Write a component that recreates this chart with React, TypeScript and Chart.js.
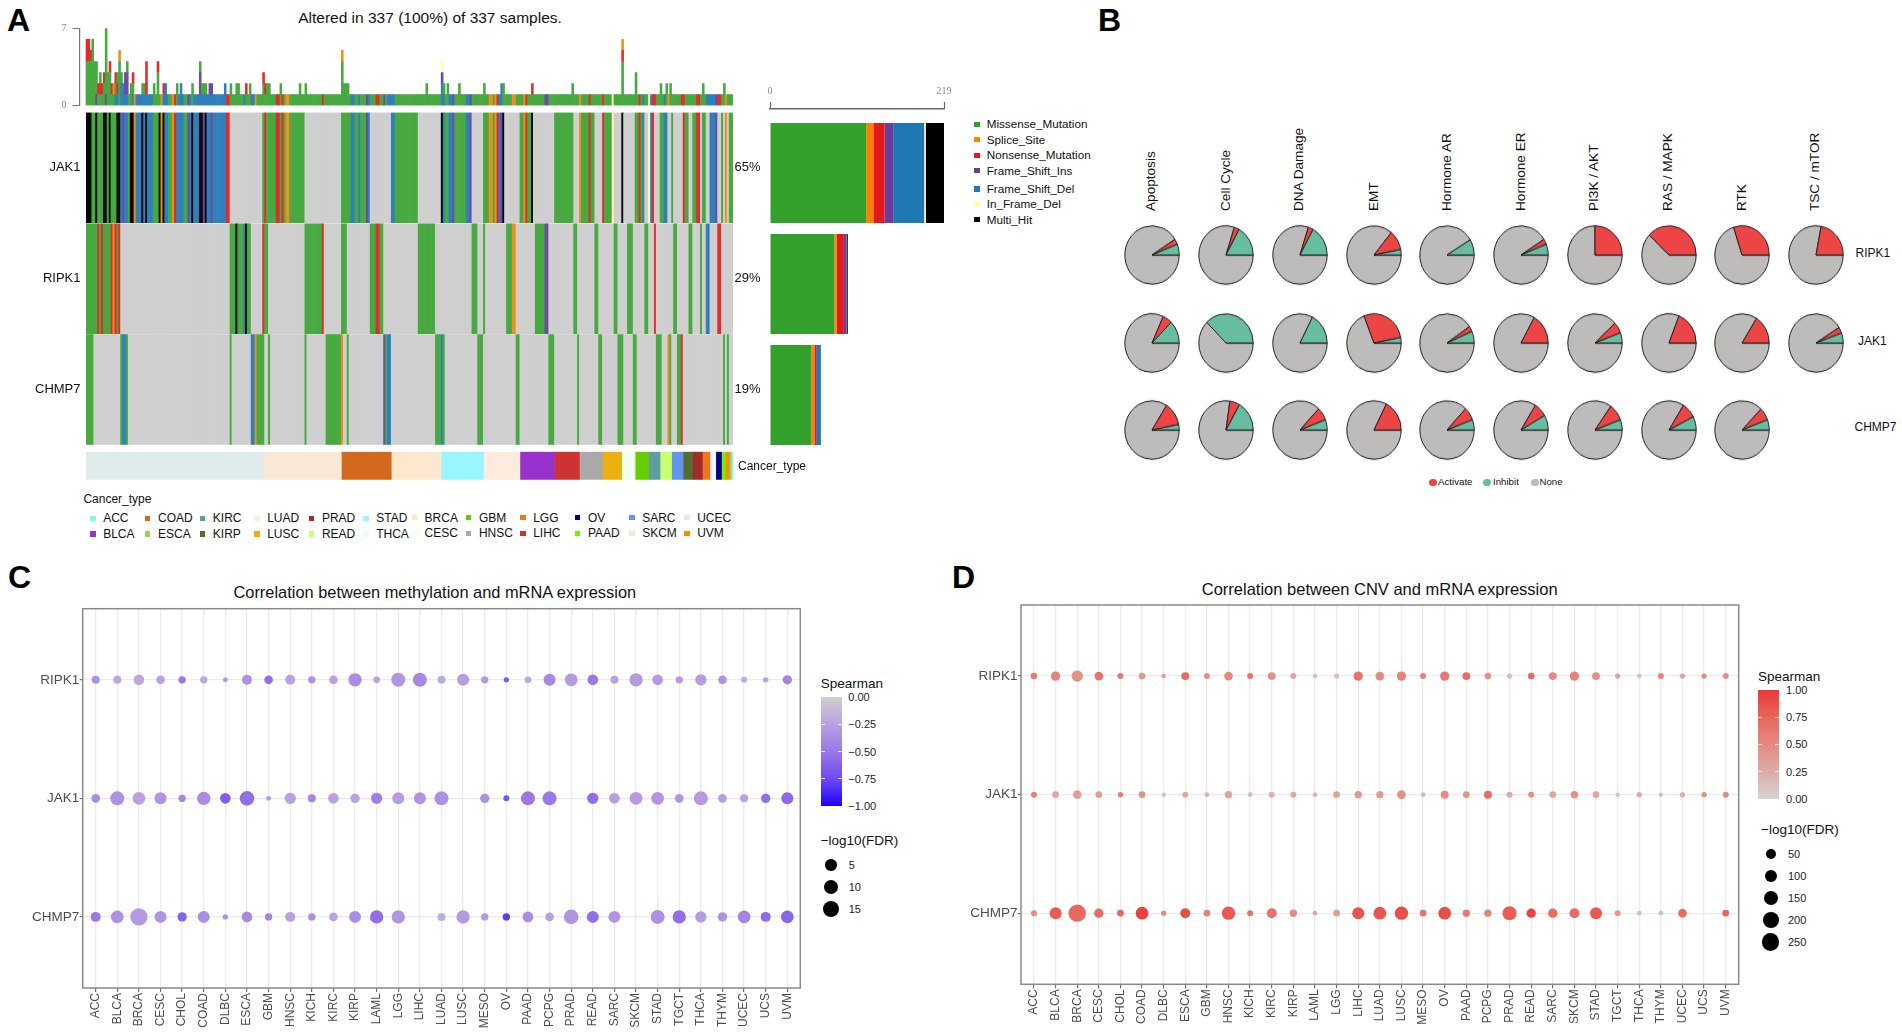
import React, { useEffect, useRef } from "react";
import { Chart, registerables } from "chart.js";

Chart.register(...registerables);
Chart.defaults.font.family = "'Liberation Sans', Arial, sans-serif";

// ---------- Panel A data ----------
const genes = ["JAK1", "RIPK1", "CHMP7"];
const genePercents = ["65%", "29%", "19%"];
const sampleCount = 337;
const mutationTypes = ["M", "S", "N", "I", "D", "F", "H"];
const mutationNames = ["Missense_Mutation", "Splice_Site", "Nonsense_Mutation", "Frame_Shift_Ins", "Frame_Shift_Del", "In_Frame_Del", "Multi_Hit"];
const jak1Runs: [number, number, string][] = [
  [0,3,"H"],[3,5,"M"],[5,6,"H"],[6,9,"M"],[9,11,"H"],[11,12,"M"],[12,13,"H"],[13,16,"M"],[16,18,"H"],[18,19,"D"],[19,20,"I"],[20,22,"D"],[22,23,"M"],[23,25,"H"],[25,26,"S"],[26,29,"D"],[29,30,"H"],[30,31,"D"],[31,32,"H"],[32,35,"D"],[35,38,"M"],[38,39,"H"],[39,40,"S"],[40,41,"H"],[41,43,"D"],[43,45,"M"],[45,46,"S"],[46,47,"N"],[47,51,"D"],[51,53,"M"],[53,54,"I"],[54,55,"D"],[55,56,"H"],[56,59,"D"],[59,61,"H"],[61,62,"I"],[62,63,"H"],[63,65,"D"],[65,66,"I"],[66,73,"D"],[73,75,"N"],
  [92,93,"M"],[93,94,"N"],[94,99,"M"],[99,101,"N"],[101,102,"M"],[102,103,"N"],[103,104,"M"],[104,106,"S"],[106,114,"M"],[133,138,"M"],[138,140,"D"],[140,142,"M"],[142,143,"D"],[143,146,"M"],[146,147,"I"],[147,148,"D"],[159,161,"D"],[161,173,"M"],
  [185,186,"H"],[186,187,"D"],[187,189,"M"],[189,191,"D"],[191,192,"I"],[192,198,"M"],[198,200,"D"],[200,201,"I"],[207,210,"M"],[210,212,"S"],[212,213,"M"],[213,214,"S"],[214,215,"N"],[215,216,"D"],[216,217,"I"],[217,218,"H"],[226,228,"M"],[228,229,"S"],[229,230,"N"],[230,232,"M"],[232,233,"H"],[244,254,"M"],
  [257,258,"S"],[258,262,"M"],[262,263,"N"],[263,265,"M"],[269,270,"N"],[270,274,"M"],[274,275,"F"],[279,280,"H"],[286,288,"M"],[288,289,"N"],[289,290,"M"],[290,291,"D"],[293,294,"F"],[294,295,"D"],[295,296,"N"],[299,301,"M"],[301,303,"D"],[305,306,"M"],[311,312,"N"],[312,314,"M"],[316,318,"M"],[318,320,"N"],[321,323,"M"],[325,328,"D"],[328,329,"I"],[331,332,"M"],[333,334,"S"],[335,337,"M"],
];
const ripk1Runs: [number, number, string][] = [
  [0,6,"M"],[6,7,"N"],[7,8,"M"],[8,9,"N"],[9,13,"M"],[13,14,"N"],[14,15,"S"],[15,16,"N"],[16,17,"M"],[17,18,"N"],[75,78,"M"],[78,79,"H"],[79,82,"M"],[82,83,"D"],[83,84,"H"],[84,86,"M"],[92,93,"N"],[93,95,"M"],[114,123,"M"],[123,124,"N"],[133,136,"M"],[148,151,"M"],[151,153,"N"],[153,155,"M"],[173,182,"M"],[201,204,"M"],[207,208,"M"],[219,222,"M"],[222,224,"S"],[234,239,"M"],[239,241,"I"],[254,256,"M"],[265,267,"M"],[275,277,"M"],[282,285,"M"],[291,293,"M"],[296,297,"N"],[306,308,"M"],[314,316,"M"],[320,321,"M"],[323,325,"D"],[329,331,"N"],
];
const chmp7Runs: [number, number, string][] = [
  [0,4,"M"],[18,19,"M"],[19,21,"D"],[21,22,"M"],[75,76,"M"],[86,88,"D"],[88,89,"S"],[89,93,"M"],[95,96,"M"],[114,115,"M"],[125,133,"M"],[133,134,"S"],[136,137,"M"],[155,156,"I"],[156,157,"M"],[157,159,"D"],[182,185,"M"],[185,186,"D"],[186,187,"M"],[204,207,"M"],[224,226,"M"],[241,244,"M"],[256,257,"M"],[267,269,"M"],[277,280,"M"],[285,287,"M"],[297,300,"M"],[303,304,"S"],[304,305,"M"],[308,310,"M"],[310,311,"N"],[332,333,"M"],[334,335,"M"],
];
const topStacks: [number, string][] = [
  [0,"MMMMNN"],[1,"MMMMNN"],[2,"MMMMN"],[3,"MMMMMM"],[4,"MMMM"],[5,"IMMM"],[6,"MN"],[7,"MNM"],[8,"MN"],[9,"MMN"],[10,"IMMMMMM"],[11,"MMM"],[12,"MMMN"],[13,"MN"],[14,"MS"],[15,"DMN"],[16,"DNM"],[17,"MMMMS"],[18,"DDM"],[19,"DD"],[20,"DII"],[21,"DIIM"],[23,"MM"],[24,"DMN"],[29,"DM"],[30,"DM"],[31,"DNNN"],[35,"MM"],[37,"MMMN"],[40,"DN"],[41,"DD"],[47,"MM"],[49,"DD"],[55,"MM"],[59,"DIIM"],[60,"DM"],[61,"DM"],[62,"DM"],[64,"DI"],[65,"DI"],[72,"DD"],[75,"MM"],[78,"MM"],[79,"MM"],[83,"MN"],[85,"MM"],[92,"MMN"],[93,"MN"],[94,"MM"],[95,"MM"],[101,"MM"],[111,"MM"],[114,"MM"],[133,"MMMMS"],[134,"MM"],[135,"MM"],[136,"MM"],[177,"MM"],[185,"DDIF"],[186,"DM"],[188,"MM"],[194,"MM"],[207,"MM"],[216,"DD"],[217,"MM"],[232,"MN"],[253,"MM"],[279,"MMMMNS"],[286,"MMM"],[299,"MM"],[302,"MM"],[304,"MM"],[321,"MM"],[332,"MM"],
];
const rowBarCounts: Record<string, number[]> = {
  M: [121, 81, 52], S: [9, 3, 4], N: [14, 9, 2], I: [11, 3, 1], D: [39, 1, 5], F: [2, 0, 0], H: [23, 1, 0],
};
const cancerOrder = ["UCEC","SKCM","COAD","BRCA","STAD","LUAD","BLCA","LIHC","HNSC","LUSC","CESC","GBM","KIRC","READ","SARC","KIRP","PRAD","LGG","THCA","OV","PAAD","UVM","ESCA","ACC"];
const cancerCounts = [92,41,26,26,22,19,18,13,12,10,7,7,6,6,6,5,5,4,3,3,2,2,1,1];
const cancerLegendRows = [["ACC","BLCA"],["COAD","ESCA"],["KIRC","KIRP"],["LUAD","LUSC"],["PRAD","READ"],["STAD","THCA"],["BRCA","CESC"],["GBM","HNSC"],["LGG","LIHC"],["OV","PAAD"],["SARC","SKCM"],["UCEC","UVM"]];

// ---------- Panel B data ----------
const pathways = ["Apoptosis","Cell Cycle","DNA Damage","EMT","Hormone AR","Hormone ER","PI3K / AKT","RAS / MAPK","RTK","TSC / mTOR"];
const pieGenes = ["RIPK1","JAK1","CHMP7"];
const pieActivate = [
  [3,3,3,11,0,3,25,38,30,22],
  [5.7,0,0,28,3,16.9,6.2,19,16,3.4],
  [13,6,7.3,17.5,7.3,7.8,9.4,8.6,7],
];
const pieInhibit = [
  [6,17,17,3,8.7,6,0,0,0,0],
  [12.5,37.5,17.4,3,6.5,0,5.7,0,0,5.5],
  [3,16.7,5.7,0,5.7,8.3,5.7,7.5,5.7],
];

// ---------- Panels C, D data ----------
const cancers = ["ACC","BLCA","BRCA","CESC","CHOL","COAD","DLBC","ESCA","GBM","HNSC","KICH","KIRC","KIRP","LAML","LGG","LIHC","LUAD","LUSC","MESO","OV","PAAD","PCPG","PRAD","READ","SARC","SKCM","STAD","TGCT","THCA","THYM","UCEC","UCS","UVM"];
const methFdrRipk1 = [1.2,1.2,3.8,1.7,.78,.78,.01,3,1.7,3,.78,1.7,7.9,.44,9.2,9.2,1.2,5.7,.78,.06,.44,5.7,6.8,3.8,1.2,7.9,3.8,.78,4.7,1.7,.2,.06,2.3];
const methFdrJak1 = [1.7,9.2,6.8,5.7,.78,7.9,3.8,10.5,.01,4.7,1.2,3.8,2.3,4.7,5.7,5.7,9.2,null,2.3,.2,9.2,9.2,null,4.7,3.8,6.8,6.8,1.7,9.2,1.7,1.2,2.3,5.7];
const methFdrChmp7 = [3,6.8,16.9,5.7,2.3,5.7,.06,3.8,.78,3,.78,1.7,5.7,7.9,7.9,null,1.2,7.9,.78,.78,3.8,1.7,10.5,5.7,5.7,null,9.2,7.9,4.7,2.3,6.8,3,6.8];
const methRhoRipk1 = [-.35,-.22,-.22,-.25,-.5,-.22,-.3,-.35,-.55,-.25,-.35,-.25,-.38,-.25,-.32,-.4,-.2,-.28,-.3,-.65,-.22,-.4,-.3,-.5,-.25,-.3,-.3,-.3,-.28,-.35,-.2,-.25,-.42];
const methRhoJak1 = [-.38,-.35,-.25,-.33,-.42,-.38,-.65,-.55,-.3,-.25,-.42,-.25,-.25,-.45,-.28,-.33,-.35,0,-.35,-.7,-.5,-.5,0,-.55,-.27,-.3,-.32,-.33,-.3,-.28,-.25,-.55,-.58];
const methRhoChmp7 = [-.5,-.35,-.3,-.33,-.62,-.37,-.35,-.4,-.42,-.25,-.38,-.25,-.38,-.55,-.33,0,-.2,-.3,-.3,-.8,-.38,-.27,-.32,-.55,-.33,0,-.35,-.55,-.28,-.35,-.42,-.58,-.6];
const cnvFdrRipk1 = [8,38,75,28,4,8,.1,20,4,28,4,20,4,.1,1.4,38,28,38,4,38,20,8,1.4,8,20,38,20,1.4,.1,4,1.4,1.4,4];
const cnvFdrJak1 = [4,8,28,8,1.4,8,.01,4,.1,13.5,.1,4,4,.1,8,13.5,13.5,28,.1,20,8,20,4,4,8,13.5,8,.01,1.4,.01,1.4,1.4,4];
const cnvFdrChmp7 = [4,90,262,38,8,107,1.4,49,8,125,4,49,13.5,.1,8,90,107,125,8,107,13.5,13.5,144,38,38,49,90,4,.1,.1,28,null,8];
const cnvRhoRipk1 = [.6,.55,.45,.65,.6,.4,.3,.7,.45,.5,.65,.45,.3,.12,.12,.65,.5,.55,.55,.62,.68,.45,.15,.7,.5,.55,.45,.3,.12,.5,.3,.5,.45];
const cnvRhoJak1 = [.55,.3,.35,.35,.6,.45,.1,.3,.2,.3,.15,.22,.3,.2,.32,.4,.35,.45,.15,.5,.42,.7,.25,.45,.3,.45,.3,.1,.25,.1,.22,.45,.5];
const cnvRhoChmp7 = [.5,.8,.72,.7,.75,.95,.5,.88,.55,.82,.65,.65,.5,.3,.35,.85,.85,.88,.65,.88,.6,.55,.8,.95,.7,.7,.82,.4,.15,.15,.72,0,.75];
const methSizeLegend = [5, 10, 15];
const cnvSizeLegend = [50, 100, 150, 200, 250];
const methBarTicks = ["0.00", "\u22120.25", "\u22120.50", "\u22120.75", "\u22121.00"];
const cnvBarTicks = ["1.00", "0.75", "0.50", "0.25", "0.00"];

// ---------- Styling ----------
const heatColors: Record<string, string> = { M: "#48a941", S: "#f0901c", N: "#e52a2c", I: "#6f4aa0", D: "#2f80ba", F: "#ffffa8", H: "#0a0a0a" };
const solidColors: Record<string, string> = { M: "#33a02c", S: "#ff7f00", N: "#e31a1c", I: "#6a3d9a", D: "#1f78b4", F: "#ffff99", H: "#000000" };
const cancerColors: Record<string, string> = {
  ACC:"#7fffd4",BLCA:"#9932cc",COAD:"#d2691e",ESCA:"#a2cd5a",KIRC:"#5f9ea0",KIRP:"#556b2f",LUAD:"#fdebdd",LUSC:"#eeb010",PRAD:"#a52a2a",READ:"#caff70",STAD:"#99f5ff",THCA:"#f0f8ff",
  BRCA:"#fce8cf",CESC:"#f0fff0",GBM:"#66cd00",HNSC:"#a9a9a9",LGG:"#ee7621",LIHC:"#cd3333",OV:"#000080",PAAD:"#76ee00",SARC:"#6495ed",SKCM:"#f9e8d6",UCEC:"#dfeceb",UVM:"#ff8c00",
};
const HEAT_NONE = "#cfcfcf";
const METH_STOPS = ["#cfcfcf", "#b9a2e0", "#9a78e6", "#6e4bef", "#1c00ff"];
const CNV_STOPS = ["#d3d3d3", "#ddaca6", "#e58a80", "#e9655c", "#e93a3a"];
const PIE_COLORS = { none: "#bebcbb", activate: "#ed4545", inhibit: "#67bd9f" };

const hex = (c: string) => [1, 3, 5].map((i) => parseInt(c.slice(i, i + 2), 16));
function ramp(stops: string[], t: number) {
  const p = Math.max(0, Math.min(1, t)) * (stops.length - 1);
  const i = Math.min(stops.length - 2, Math.floor(p));
  const a = hex(stops[i]), b = hex(stops[i + 1]);
  const f = p - i;
  return `rgb(${a.map((v, k) => Math.round(v + (b[k] - v) * f)).join(",")})`;
}
const methRadius = (v: number) => 2.3 + 1.55 * Math.sqrt(v);
const cnvRadius = (v: number) => 2.2 + 0.4 * Math.sqrt(v);

function expandRuns(runs: [number, number, string][]) {
  const out: string[] = new Array(sampleCount).fill("");
  runs.forEach(([a, b, t]) => { for (let i = a; i < b; i++) out[i] = t; });
  return out;
}
const geneColumns = [expandRuns(jak1Runs), expandRuns(ripk1Runs), expandRuns(chmp7Runs)];
const sampleIdx = Array.from({ length: sampleCount }, (_, i) => i);
const overrideMap = new Map(topStacks);
const stacks = sampleIdx.map((i) => {
  const o = overrideMap.get(i);
  if (o) return o;
  const b = geneColumns[0][i] || geneColumns[1][i] || geneColumns[2][i] || "M";
  return b === "H" ? "M" : b;
});

const baseOpts = {
  responsive: false,
  animation: false as const,
  events: [] as string[],
  plugins: { legend: { display: false }, tooltip: { enabled: false }, title: { display: false } },
};
// Fixed axis thickness; the label overhang padding is cleared so the plot area lands exactly where the layout padding says.
const fixW = (w: number) => (s: any) => { s.width = w; s.paddingTop = 0; s.paddingBottom = 0; };
const fixH = (h: number) => (s: any) => { s.height = h; s.paddingLeft = 0; s.paddingRight = 0; };

// ---------- Chart configs ----------
const topLayers = [0, 1, 2, 3, 4, 5, 6].map((l) => ({
  data: sampleIdx.map((i) => ({ x: i, y: stacks[i].length > l ? 1 : 0 })),
  backgroundColor: sampleIdx.map((i) => heatColors[stacks[i][l]] || "rgba(0,0,0,0)"),
  borderWidth: 0,
  barPercentage: 1,
  categoryPercentage: 1,
}));
const topConfig: any = {
  type: "bar",
  data: { datasets: topLayers },
  options: {
    ...baseOpts,
    layout: { padding: { top: 10.3, bottom: 2.3, right: 7 } },
    scales: {
      x: { type: "linear", stacked: true, display: false, offset: false, min: -3.885, max: 336.5 },
      y: {
        stacked: true, min: 0, max: 7, afterFit: fixW(79.5),
        afterBuildTicks: (s: any) => { s.ticks = [{ value: 0 }, { value: 7 }]; },
        grid: { drawOnChartArea: false, tickLength: 7, tickColor: "#777", tickWidth: 1 },
        border: { color: "#777", width: 1.2 },
        ticks: { color: "#888", padding: 6, font: { family: "'Liberation Serif'", size: 10 } },
      },
    },
  },
};

const heatConfig: any = {
  type: "bar",
  data: {
    labels: sampleIdx.map(String),
    datasets: genes.map((_, g) => ({
      data: sampleIdx.map(() => [g + 0.005, g + 0.995]),
      backgroundColor: sampleIdx.map((i) => heatColors[geneColumns[g][i]] || HEAT_NONE),
      borderWidth: 0,
      grouped: false,
      barPercentage: 1,
      categoryPercentage: 1,
    })),
  },
  options: {
    ...baseOpts,
    layout: { padding: { top: 7.3, bottom: 10 } },
    scales: {
      x: { display: false },
      y: {
        min: 0, max: 3, reverse: true, position: "left", afterFit: fixW(86),
        afterBuildTicks: (s: any) => { s.ticks = genes.map((_, i) => ({ value: i + 0.5 })); },
        grid: { display: false, drawTicks: false }, border: { display: false },
        ticks: { color: "#111", padding: 5.5, font: { size: 13 }, callback: (v: number) => genes[Math.floor(v)] },
      },
      yr: {
        min: 0, max: 3, reverse: true, position: "right", afterFit: fixW(57),
        afterBuildTicks: (s: any) => { s.ticks = genes.map((_, i) => ({ value: i + 0.5 })); },
        grid: { display: false, drawTicks: false }, border: { display: false },
        ticks: { color: "#111", padding: 1.5, font: { size: 13 }, callback: (v: number) => genePercents[Math.floor(v)] },
      },
    },
  },
};

const annotConfig: any = {
  type: "bar",
  data: {
    labels: ["Cancer_type"],
    datasets: cancerOrder.map((c, i) => ({ data: [cancerCounts[i]], backgroundColor: cancerColors[c], borderWidth: 0, barPercentage: 1, categoryPercentage: 1 })),
  },
  options: {
    ...baseOpts,
    indexAxis: "y",
    layout: { padding: { top: 0.7, bottom: 1.3 } },
    scales: { x: { stacked: true, display: false, min: 0, max: 337 }, y: { stacked: true, display: false } },
  },
};

const rightConfig: any = {
  type: "bar",
  data: {
    datasets: mutationTypes.map((t) => ({
      data: genes.map((_, g) => ({ x: rowBarCounts[t][g], y: g })),
      backgroundColor: solidColors[t],
      borderWidth: 0,
      barPercentage: 0.9,
      categoryPercentage: 1,
    })),
  },
  options: {
    ...baseOpts,
    indexAxis: "y",
    layout: { padding: { left: 10, right: 16, bottom: 4.5 } },
    scales: {
      y: {
        type: "linear", stacked: true, display: false, offset: false, reverse: true, min: -0.577, max: 2.5,
        afterBuildTicks: (s: any) => { s.ticks = genes.map((_, i) => ({ value: i })); },
      },
      x: {
        type: "linear", stacked: true, position: "top", min: 0, max: 219, offset: false, afterFit: fixH(29),
        afterBuildTicks: (s: any) => { s.ticks = [{ value: 0 }, { value: 219 }]; },
        grid: { drawOnChartArea: false, tickLength: 7, tickColor: "#666", tickWidth: 1.2 },
        border: { color: "#666", width: 1.4 },
        ticks: { color: "#888", padding: 5, maxRotation: 0, font: { family: "'Liberation Serif'", size: 10 } },
      },
    },
  },
};

const framePlugin = {
  id: "frame",
  afterDatasetsDraw(chart: any) {
    const { ctx, chartArea: a } = chart;
    ctx.save();
    ctx.strokeStyle = "#8a8a8a";
    ctx.lineWidth = 1.5;
    ctx.strokeRect(a.left, a.top, a.right - a.left, a.bottom - a.top);
    ctx.restore();
  },
};

function dotConfig(
  fdr: (number | null)[][], rho: number[][], radius: (v: number) => number, stops: string[], sign: number,
  pad: any, leftW: number, bottomH: number,
) {
  return {
    type: "bubble",
    data: {
      datasets: pieGenes.map((_, g) => ({
        data: cancers.map((_, i) => (fdr[g][i] == null ? null : { x: i, y: g, r: radius(fdr[g][i] as number) })).filter(Boolean),
        backgroundColor: cancers.map((_, i) => (fdr[g][i] == null ? null : ramp(stops, sign * rho[g][i]))).filter(Boolean),
        borderWidth: 0,
        clip: false,
      })),
    },
    options: {
      ...baseOpts,
      layout: { padding: pad },
      scales: {
        x: {
          type: "linear", min: -0.6, max: 32.6, afterFit: fixH(bottomH),
          afterBuildTicks: (s: any) => { s.ticks = cancers.map((_, i) => ({ value: i })); },
          grid: { color: "#ebebeb", lineWidth: 1.3, tickColor: "#555", tickLength: 4, tickWidth: 1, drawOnChartArea: true },
          border: { display: false },
          ticks: { color: "#4d4d4d", autoSkip: false, minRotation: 90, maxRotation: 90, padding: 1, font: { size: 12 }, callback: (v: number) => cancers[v] },
        },
        y: {
          type: "linear", reverse: true, min: -0.6, max: 2.6, afterFit: fixW(leftW),
          afterBuildTicks: (s: any) => { s.ticks = pieGenes.map((_, i) => ({ value: i })); },
          grid: { color: "#ebebeb", lineWidth: 1.3, tickColor: "#555", tickLength: 3, tickWidth: 1 },
          border: { display: false },
          ticks: { color: "#4d4d4d", padding: 0.5, font: { size: 13.5 }, callback: (v: number) => pieGenes[v] },
        },
      },
    },
    plugins: [framePlugin],
  };
}
const methConfig: any = dotConfig(
  [methFdrRipk1, methFdrJak1, methFdrChmp7], [methRhoRipk1, methRhoJak1, methRhoChmp7], methRadius, METH_STOPS, -1,
  { top: 8.7, right: 9.7 }, 82.7, 47,
);
const cnvConfig: any = dotConfig(
  [cnvFdrRipk1, cnvFdrJak1, cnvFdrChmp7], [cnvRhoRipk1, cnvRhoJak1, cnvRhoChmp7], cnvRadius, CNV_STOPS, 1,
  { top: 9, right: 11.3 }, 81, 50.7,
);

function pieConfig(activate: number, inhibit: number): any {
  return {
    type: "pie",
    data: {
      labels: ["None", "Activate", "Inhibit"],
      datasets: [{
        data: [100 - activate - inhibit, activate, inhibit],
        backgroundColor: [PIE_COLORS.none, PIE_COLORS.activate, PIE_COLORS.inhibit],
        borderColor: "#222",
        borderWidth: 1,
      }],
    },
    options: { ...baseOpts, rotation: 90, radius: 27.2 },
  };
}

// ---------- Small components ----------
function ChartBox({ x, y, w, h, config, transform }: any) {
  const ref = useRef<HTMLCanvasElement>(null);
  useEffect(() => {
    const c = new Chart(ref.current as any, config);
    return () => c.destroy();
  }, []);
  return <canvas ref={ref} width={w} height={h} style={{ position: "absolute", left: x, top: y, width: w, height: h, transform }} />;
}

function T({ x, y, s, c = "#111", w, a = "left", children }: any) {
  const tx = a === "center" ? "-50%" : a === "right" ? "-100%" : "0";
  return (
    <div style={{
      position: "absolute", left: x, top: y, fontSize: s, color: c, fontWeight: w, whiteSpace: "nowrap", lineHeight: 1,
      fontFamily: "'Liberation Sans', Arial, sans-serif", transform: `translate(${tx}, -50%)`,
    }}>{children}</div>
  );
}
function VT({ x, y, s, children }: any) {
  return (
    <div style={{
      position: "absolute", left: x, top: y, fontSize: s, color: "#111", whiteSpace: "nowrap", lineHeight: 1,
      fontFamily: "'Liberation Sans', Arial, sans-serif", transformOrigin: "left center", transform: "translateY(-50%) rotate(-90deg)",
    }}>{children}</div>
  );
}
function Box({ x, y, w, h, bg, r }: any) {
  return <div style={{ position: "absolute", left: x, top: y, width: w, height: h, background: bg, borderRadius: r }} />;
}

function ColorBar({ x, y, w, h, stops, labels, labelX }: any) {
  return (
    <>
      <Box x={x} y={y} w={w} h={h} bg={`linear-gradient(to bottom, ${stops.join(",")})`} />
      {labels.map((l: string, i: number) => {
        const ty = y + (h * i) / (labels.length - 1);
        return (
          <React.Fragment key={l}>
            {i > 0 && i < labels.length - 1 && (
              <>
                <Box x={x} y={ty - 0.5} w={4} h={1} bg="rgba(255,255,255,.8)" />
                <Box x={x + w - 4} y={ty - 0.5} w={4} h={1} bg="rgba(255,255,255,.8)" />
              </>
            )}
            <T x={labelX} y={ty} s={11} c="#222">{l}</T>
          </React.Fragment>
        );
      })}
    </>
  );
}

const annotLegendX = [93, 147.8, 202.6, 257, 311.7, 366, 414.4, 468.7, 523, 577.8, 632, 687];
const pieCenterX = (c: number) => 1152.2 + c * 73.78;
const pieRowY = [255, 342.7, 430.3];
const pieLabelX = [1151, 1225.5, 1298.5, 1374, 1447, 1520.5, 1593.5, 1667.5, 1742, 1815];
const pieGeneLabelX = [1855.5, 1858, 1854.5];
const pieGeneLabelY = [252.7, 341.3, 427.3];
const legendRowY = [124.3, 139.7, 155.3, 170.7, 189, 204.3, 219.7];

export default function App() {
  useEffect(() => {
    document.body.style.background = "#fff";
    document.body.style.margin = "0";
  }, []);
  return (
    <div style={{ position: "absolute", left: 0, top: 0, width: 1902, height: 1035, background: "#fff", overflow: "hidden" }}>
      {/* Panel letters */}
      <T x={7} y={20} s={32} w="bold" c="#000">A</T>
      <T x={1098} y={20} s={32} w="bold" c="#000">B</T>
      <T x={8} y={577} s={32} w="bold" c="#000">C</T>
      <T x={952} y={577} s={32} w="bold" c="#000">D</T>

      {/* Panel A */}
      <T x={430} y={18} s={15.5} a="center" c="#111">Altered in 337 (100%) of 337 samples.</T>
      <ChartBox x={0} y={18} w={740} h={90} config={topConfig} />
      <ChartBox x={0} y={105} w={790} h={350} config={heatConfig} />
      <ChartBox x={86} y={451} w={647} h={30} config={annotConfig} />
      <ChartBox x={760} y={80} w={200} h={375} config={rightConfig} />
      <T x={738} y={466} s={12}>Cancer_type</T>
      {mutationNames.map((n, i) => (
        <React.Fragment key={n}>
          <Box x={974.2} y={legendRowY[i] - 2.7} w={5.4} h={5.4} bg={solidColors[mutationTypes[i]]} />
          <T x={986.7} y={legendRowY[i]} s={11.7}>{n}</T>
        </React.Fragment>
      ))}
      <T x={83.4} y={498.7} s={12}>Cancer_type</T>
      {cancerLegendRows.map((pair, col) =>
        pair.map((name, row) => {
          const yy = (col >= 6 ? 517.7 : 518.3) + row * 15.6;
          return (
            <React.Fragment key={name}>
              <Box x={annotLegendX[col] - 2.7} y={yy - 2.7} w={5.4} h={5.4} bg={cancerColors[name]} />
              <T x={annotLegendX[col] + 10.2} y={yy} s={12}>{name}</T>
            </React.Fragment>
          );
        }),
      )}

      {/* Panel B */}
      {pathways.map((p, i) => <VT key={p} x={pieLabelX[i]} y={210.7} s={13.6}>{p}</VT>)}
      {pieGenes.map((g, r) => (
        <React.Fragment key={g}>
          <T x={pieGeneLabelX[r]} y={pieGeneLabelY[r]} s={12}>{g}</T>
          {pieActivate[r].map((a, c) => (
            <ChartBox
              key={c}
              x={Math.round(pieCenterX(c)) - 32}
              y={Math.round(pieRowY[r]) - 32}
              w={64}
              h={64}
              transform="scaleY(1.075)"
              config={pieConfig(a, pieInhibit[r][c])}
            />
          ))}
        </React.Fragment>
      ))}
      {[["Activate", 1433, 1438, PIE_COLORS.activate], ["Inhibit", 1487, 1493, PIE_COLORS.inhibit], ["None", 1535, 1539.4, PIE_COLORS.none]].map(([l, dx, tx, col]: any) => (
        <React.Fragment key={l}>
          <Box x={dx - 3.6} y={482.3 - 3.6} w={7.2} h={7.2} r="50%" bg={col} />
          <T x={tx} y={482.3} s={9.7}>{l}</T>
        </React.Fragment>
      ))}

      {/* Panel C */}
      <T x={434.8} y={592} s={16.4} a="center" c="#111">Correlation between methylation and mRNA expression</T>
      <ChartBox x={0} y={600} w={810} h={435} config={methConfig} />
      <T x={820.7} y={684} s={13.5}>Spearman</T>
      <ColorBar x={820.7} y={697} w={21} h={109} stops={METH_STOPS} labels={methBarTicks} labelX={848.3} />
      <T x={820.7} y={841} s={13.5}>{"\u2212log10(FDR)"}</T>
      {methSizeLegend.map((v, i) => {
        const r = methRadius(v);
        const yy = 865 + i * 22;
        return (
          <React.Fragment key={v}>
            <Box x={831 - r} y={yy - r} w={2 * r} h={2 * r} r="50%" bg="#000" />
            <T x={848.7} y={yy} s={11} c="#222">{v}</T>
          </React.Fragment>
        );
      })}

      {/* Panel D */}
      <T x={1379.7} y={588.7} s={16.5} a="center" c="#111">Correlation between CNV and mRNA expression</T>
      <ChartBox x={940} y={596} w={810} h={439} config={cnvConfig} />
      <T x={1758} y={676.7} s={13.5}>Spearman</T>
      <ColorBar x={1758} y={690} w={21.3} h={108.7} stops={[...CNV_STOPS].reverse()} labels={cnvBarTicks} labelX={1786} />
      <T x={1761} y={830.3} s={13.5}>{"\u2212log10(FDR)"}</T>
      {cnvSizeLegend.map((v, i) => {
        const r = cnvRadius(v);
        const yy = 854 + i * 22;
        return (
          <React.Fragment key={v}>
            <Box x={1770.7 - r} y={yy - r} w={2 * r} h={2 * r} r="50%" bg="#000" />
            <T x={1788} y={yy} s={11} c="#222">{v}</T>
          </React.Fragment>
        );
      })}
    </div>
  );
}
